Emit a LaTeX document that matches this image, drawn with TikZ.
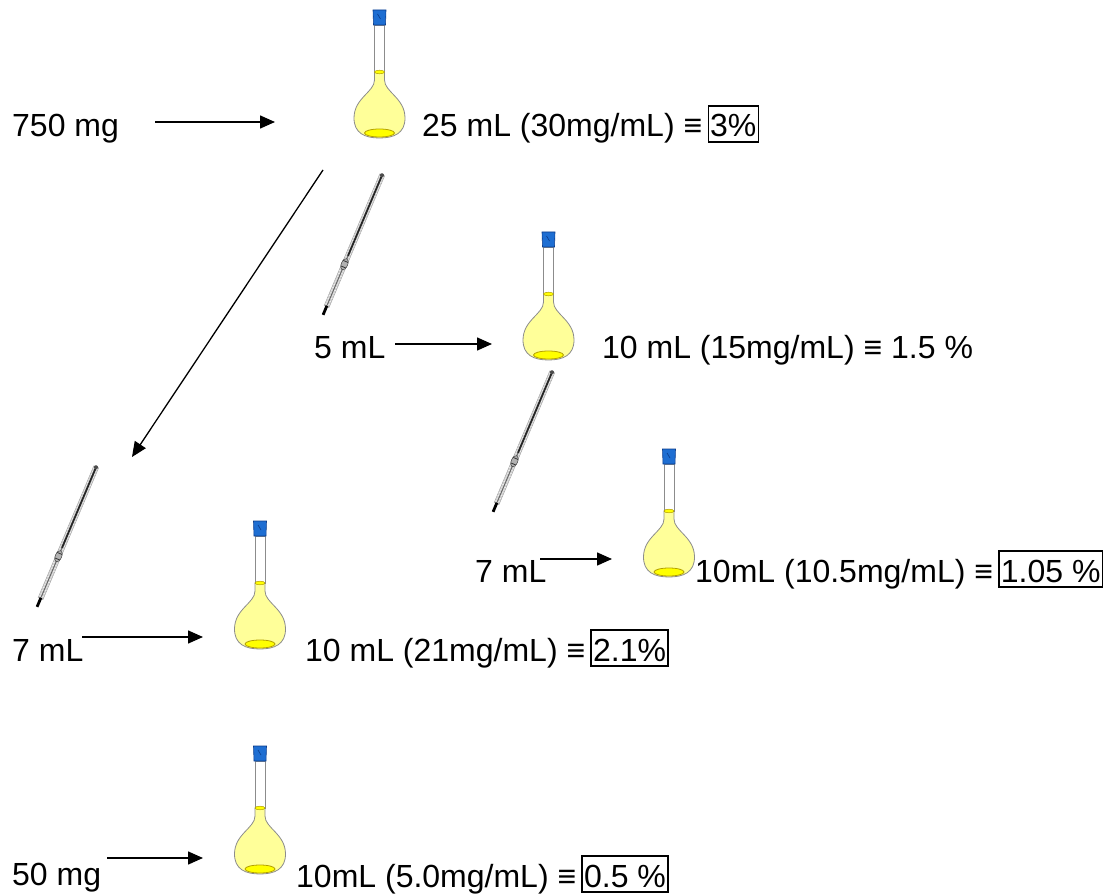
\documentclass[tikz,border=0pt]{standalone}
\usepackage{fontspec}
\setmainfont{Liberation Sans}
\usetikzlibrary{arrows.meta}

\definecolor{capblue}{HTML}{1E6ED2}
\definecolor{capdark}{HTML}{0A3C8C}
\definecolor{liquid}{HTML}{FFFF99}
\definecolor{liqdeep}{HTML}{FFFF00}
\definecolor{glass}{HTML}{8C8C8C}
\definecolor{liqedge}{HTML}{B4A000}

\tikzset{
  lbl/.style={inner sep=0pt, anchor=base west, font=\fontsize{32}{38}\selectfont},
  pct/.style={draw, line width=1.3pt, inner xsep=2pt, inner ysep=1pt,
              text height=30pt, text depth=4pt, anchor=base west,
              font=\fontsize{32}{38}\selectfont},
  flow/.style={line width=1.5pt, -{Triangle[length=15pt,width=13pt]}},
  % volumetric flask, origin at the top centre of the stopper
  flask/.pic={
    \path[fill=liquid, draw=glass, line width=0.8pt]
      (-5,62) -- (-5,70) .. controls (-5,82) and (-25.5,88) .. (-25.5,108)
      .. controls (-25.5,123) and (-15,128) .. (0,128)
      .. controls (15,128) and (25.5,123) .. (25.5,108)
      .. controls (25.5,88) and (5,82) .. (5,70) -- (5,62) -- cycle;
    \path[fill=white, draw=glass, line width=0.8pt] (-5,15) rectangle (5,62);
    \path[fill=liqdeep, draw=liqedge, line width=0.5pt] (0,62) ellipse [x radius=5, y radius=1.8];
    \path[fill=liqdeep, draw=liqedge, line width=0.8pt] (0,123) ellipse [x radius=15, y radius=4];
    \path[fill=capblue, draw=capdark, line width=0.6pt]
      (-6.5,0) -- (6.5,0) -- (6,15) -- (-6,15) -- cycle;
    \draw[capdark, line width=0.6pt] (-2,4) -- (1,9);
  },
  % graduated pipette, drawn downward from its upper end
  pipette/.pic={
    \path[fill=gray!35, draw=gray!70, line width=0.5pt] (-2.6,2) rectangle (2.6,145);
    \foreach \t in {5,8,...,143} \draw[white, line width=0.45pt] (-2.3,\t) -- (2.3,\t-1.5);
    \draw[black!85, line width=1.8pt] (0,4) -- (0,90);
    \draw[black!60, line width=1pt] (0,90) -- (0,143);
    \path[fill=gray!60, draw=black!75, line width=0.5pt] (0,99) ellipse [x radius=3.2, y radius=6];
    \draw[black!80, line width=0.8pt] (-2.5,96) -- (2.5,96) (-2.5,102) -- (2.5,102);
    \draw[black, line width=2.8pt] (0,144) -- (0,154);
    \fill[black!70] (0,2.5) circle (2);
  }
}

\begin{document}
\begin{tikzpicture}[x=1pt, y=-1pt]
\useasboundingbox (0,0) rectangle (1112,896);

% stock solution
\node[lbl] (m750) at (12,137) {750 mg};
\pic (fa) at (379.5,10) {flask};
\node[lbl] (ta) at (422,137) {25 mL (30mg/mL) ≡};
\node[pct] (pa) at ([xshift=5]ta.base east) {3\%};
\coordinate (a0) at (155,122); \coordinate (a1) at (275,122);
\draw[flow] (a0) -- (a1);

% transfer to the left-hand dilution
\coordinate (d0) at (323,170); \coordinate (d1) at (132,457);
\draw[flow, line width=1.3pt] (d0) -- (d1);

% first dilution
\pic[rotate=-22.9] (pa1) at (383,173) {pipette};
\node[lbl] (v5) at (314,359) {5 mL};
\pic (fb) at (548.5,232) {flask};
\node[lbl] (tb) at (602,358) {10 mL (15mg/mL) ≡ 1.5 \%};
\coordinate (b0) at (395,344); \coordinate (b1) at (492,344);
\draw[flow] (b0) -- (b1);

% second dilution
\pic[rotate=-22.9] (pa2) at (553,370) {pipette};
\node[lbl] (v7b) at (475,582) {7 mL};
\pic (fc) at (669,449) {flask};
\node[lbl] (tc) at (695,582) {10mL (10.5mg/mL) ≡};
\node[pct] (pc) at ([xshift=5]tc.base east) {1.05 \%};
\coordinate (c0) at (540,559); \coordinate (c1) at (612,559);
\draw[flow] (c0) -- (c1);

% dilution from the stock
\pic[rotate=-22.9] (pa3) at (97,465) {pipette};
\node[lbl] (v7a) at (12,661) {7 mL};
\pic (fd) at (260,521) {flask};
\node[lbl] (td) at (305,661) {10 mL (21mg/mL) ≡};
\node[pct] (pd) at ([xshift=5]td.base east) {2.1\%};
\coordinate (e0) at (82,637); \coordinate (e1) at (203,637);
\draw[flow] (e0) -- (e1);

% separate weighing
\node[lbl] (m50) at (12,885) {50 mg};
\pic (fe) at (260,746) {flask};
\node[lbl] (te) at (296,887) {10mL (5.0mg/mL) ≡};
\node[pct] (pe) at ([xshift=5]te.base east) {0.5 \%};
\coordinate (g0) at (107,858); \coordinate (g1) at (203,858);
\draw[flow] (g0) -- (g1);
\end{tikzpicture}
\end{document}
